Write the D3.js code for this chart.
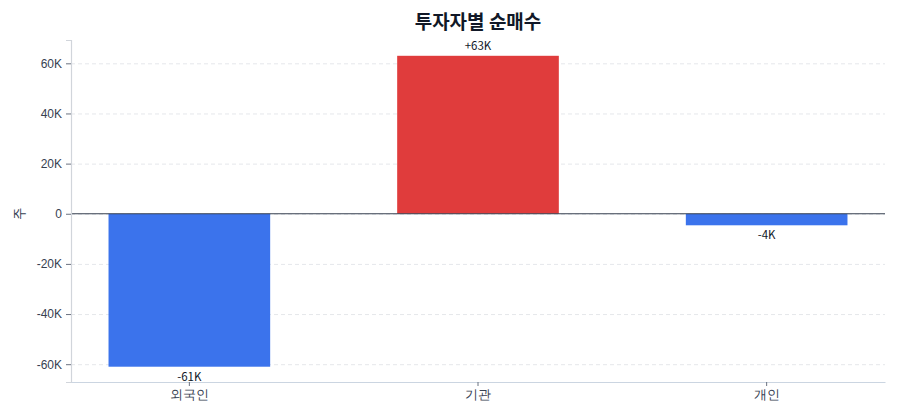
<!DOCTYPE html>
<html>
<head>
<meta charset="utf-8">
<script src="https://cdn.jsdelivr.net/npm/d3@7"></script>
<style>
  body { margin: 0; background: #fff; font-family: "Noto Sans CJK KR", "Noto Sans", sans-serif; }
  .grid line { stroke: #e5e7eb; stroke-dasharray: 4 3; }
  .grid .domain { display: none; }
</style>
</head>
<body>
<script>
// investor categories and net buy values (shares)
const investors = ["외국인", "기관", "개인"];
const netBuy = [-61000, 63000, -4600];
const valueLabels = ["-61K", "+63K", "-4K"];
const yTicks = [-60000, -40000, -20000, 0, 20000, 40000, 60000];

const width = 900, height = 420;
const margin = {top: 40, right: 15, bottom: 38, left: 71};

const svg = d3.select("body").append("svg")
    .attr("width", width)
    .attr("height", height);

const x = d3.scaleBand()
    .domain(investors)
    .range([margin.left, width - margin.right])
    .paddingInner(0.44)
    .paddingOuter(0.13);

const yMax = d3.max(netBuy) * 1.1;
const yMin = d3.min(netBuy) * 1.1;
const y = d3.scaleLinear()
    .domain([yMin, yMax])
    .range([height - margin.bottom, margin.top]);

const fmt = d => d === 0 ? "0" : (d / 1000) + "K";

// grid lines
svg.append("g")
    .attr("class", "grid")
    .attr("transform", `translate(${margin.left},0)`)
    .call(d3.axisLeft(y).tickValues(yTicks).tickSize(-(width - margin.left - margin.right)).tickFormat(""));

// bars
svg.append("g")
    .selectAll("rect")
    .data(investors)
    .enter().append("rect")
    .attr("x", d => x(d))
    .attr("width", x.bandwidth())
    .attr("y", (d, i) => y(Math.max(0, netBuy[i])))
    .attr("height", (d, i) => Math.abs(y(netBuy[i]) - y(0)))
    .attr("fill", (d, i) => netBuy[i] >= 0 ? "#e03c3c" : "#3b73ec");

// zero line
svg.append("line")
    .attr("x1", margin.left)
    .attr("x2", width - margin.right)
    .attr("y1", y(0))
    .attr("y2", y(0))
    .attr("stroke", "#374151")
    .attr("stroke-width", 1.2);

// y axis
const yAxis = svg.append("g")
    .attr("transform", `translate(${margin.left},0)`)
    .call(d3.axisLeft(y).tickValues(yTicks).tickFormat(fmt).tickSize(5).tickPadding(4));
yAxis.select(".domain").attr("stroke", "#d1d5db").attr("stroke-width", 1.2);
yAxis.selectAll(".tick line").attr("stroke", "#6b7280");
yAxis.selectAll(".tick text").attr("fill", "#374151").style("font-size", "12px");

// x axis
const xAxis = svg.append("g")
    .attr("transform", `translate(0,${height - margin.bottom})`)
    .call(d3.axisBottom(x).tickSize(4).tickPadding(4).tickSizeOuter(0));
xAxis.select(".domain").attr("stroke", "#cbd5e1").attr("stroke-width", 1.2);
xAxis.selectAll(".tick line").attr("stroke", "#6b7280");
xAxis.selectAll(".tick text").attr("fill", "#374151").style("font-size", "12.5px");

// value labels
svg.append("g")
    .selectAll("text")
    .data(investors)
    .enter().append("text")
    .attr("x", d => x(d) + x.bandwidth() / 2)
    .attr("y", (d, i) => netBuy[i] >= 0 ? y(netBuy[i]) - 6 : y(netBuy[i]) + 14)
    .attr("text-anchor", "middle")
    .attr("fill", "#111827")
    .style("font-size", "11.5px")
    .text((d, i) => valueLabels[i]);

// y axis title
svg.append("text")
    .attr("transform", `translate(24,${y(0)}) rotate(-90)`)
    .attr("text-anchor", "middle")
    .attr("fill", "#374151")
    .style("font-size", "13px")
    .text("주");

// chart title
svg.append("text")
    .attr("x", (margin.left + width - margin.right) / 2)
    .attr("y", 29)
    .attr("text-anchor", "middle")
    .attr("fill", "#111827")
    .style("font-size", "19px")
    .style("font-weight", "bold")
    .text("투자자별 순매수");
</script>
</body>
</html>
